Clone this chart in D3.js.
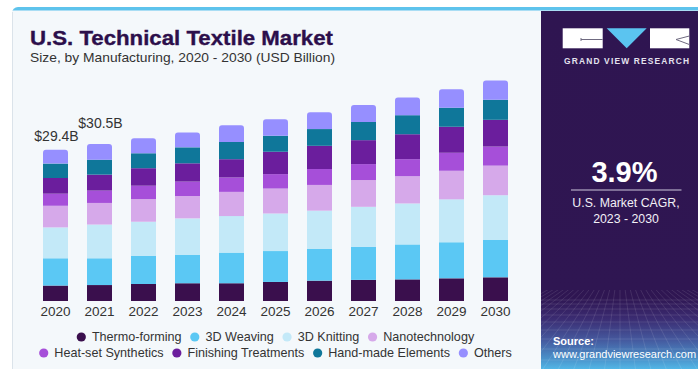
<!DOCTYPE html>
<html>
<head>
<meta charset="utf-8">
<script src="https://cdn.jsdelivr.net/npm/d3@7"></script>
<style>
  html, body { margin: 0; padding: 0; background: #ffffff; }
  svg { display: block; font-family: "Liberation Sans", Arial, sans-serif; }
</style>
</head>
<body>
<svg id="chart" width="698" height="369"></svg>
<script>
// U.S. technical textile market by manufacturing process, USD billion
const years = ["2020", "2021", "2022", "2023", "2024", "2025", "2026", "2027", "2028", "2029", "2030"];
const thermoForming       = [3.0, 3.1, 3.3, 3.45, 3.45, 3.7, 3.95, 4.1, 4.2, 4.4, 4.6];
const weaving3D           = [5.3, 5.2, 5.5, 5.5, 5.95, 6.0, 6.15, 6.45, 6.8, 7.0, 7.25];
const knitting3D          = [6.0, 6.55, 6.6, 7.1, 7.1, 7.3, 7.45, 7.75, 7.95, 8.35, 8.7];
const nanotechnology      = [4.2, 4.2, 4.4, 4.35, 4.7, 4.85, 5.0, 5.2, 5.3, 5.55, 5.75];
const heatSetSynthetics   = [2.35, 2.4, 2.6, 2.8, 2.8, 2.8, 3.1, 3.1, 3.3, 3.5, 3.7];
const finishingTreatments = [3.05, 3.1, 3.4, 3.55, 3.55, 4.35, 4.5, 4.65, 4.85, 5.05, 5.2];
const handMadeElements    = [2.8, 2.9, 2.9, 3.1, 3.35, 3.1, 3.25, 3.55, 3.7, 3.7, 3.9];
const others              = [2.7, 3.05, 2.9, 2.9, 3.25, 3.2, 3.25, 3.3, 3.45, 3.6, 3.75];

const seriesNames = ["Thermo-forming", "3D Weaving", "3D Knitting", "Nanotechnology",
                     "Heat-set Synthetics", "Finishing Treatments", "Hand-made Elements", "Others"];
const seriesValues = [thermoForming, weaving3D, knitting3D, nanotechnology,
                      heatSetSynthetics, finishingTreatments, handMadeElements, others];
const seriesColors = ["#3a0f4d", "#5bc8f4", "#c3e9f8", "#d6a9ea",
                      "#a64fd9", "#6b1e9d", "#0f779a", "#968fff"];
const labelledYears = ["2020", "2021"];

const title = "U.S. Technical Textile Market";
const subtitle = "Size, by Manufacturing, 2020 - 2030 (USD Billion)";
const cagrValue = "3.9%";
const cagrLines = ["U.S. Market CAGR,", "2023 - 2030"];

const svg = d3.select("#chart");
const W = 698, H = 369;

// ---- card background ----
svg.append("rect").attr("x", 12).attr("y", 7).attr("width", W).attr("height", 20)
  .attr("rx", 6).attr("fill", "#5ec3ec");
svg.append("rect").attr("x", 12).attr("y", 10.5).attr("width", W - 12).attr("height", H - 10.5)
  .attr("fill", "#f4f8fb");
svg.append("line").attr("x1", 12.5).attr("x2", 12.5).attr("y1", 12).attr("y2", H)
  .attr("stroke", "#dbe3ea").attr("stroke-width", 1);

// ---- title ----
svg.append("text").attr("x", 30).attr("y", 44.5)
  .attr("font-size", 21).attr("font-weight", "bold").attr("fill", "#2c0f4b")
  .attr("stroke", "#2c0f4b").attr("stroke-width", 0.35)
  .attr("textLength", 303).attr("lengthAdjust", "spacingAndGlyphs")
  .text(title);
svg.append("text").attr("x", 30).attr("y", 61.5)
  .attr("font-size", 13.5).attr("fill", "#333333")
  .attr("textLength", 305).attr("lengthAdjust", "spacingAndGlyphs")
  .text(subtitle);

// ---- bars ----
const table = years.map((yr, i) => {
  const row = { year: yr };
  seriesNames.forEach((s, k) => { row[s] = seriesValues[k][i]; });
  return row;
});
const stack = d3.stack().keys(seriesNames)(table);

const x = d3.scaleBand().domain(years).range([33.5, 517.5])
  .paddingInner(19 / 44).paddingOuter(19 / 88);
const y = d3.scaleLinear().domain([0, 42.8]).range([301, 80.7]);

const topKey = seriesNames[seriesNames.length - 1];
const r = 3;
function segPath(d, isTop) {
  const x0 = x(d.data.year), x1 = x0 + x.bandwidth();
  const y0 = y(d[0]), y1 = y(d[1]);
  if (!isTop) return `M${x0},${y0}L${x0},${y1}L${x1},${y1}L${x1},${y0}Z`;
  return `M${x0},${y0}L${x0},${y1 + r}Q${x0},${y1} ${x0 + r},${y1}` +
         `L${x1 - r},${y1}Q${x1},${y1} ${x1},${y1 + r}L${x1},${y0}Z`;
}

svg.append("g").selectAll("g").data(stack).join("g")
  .attr("fill", (d, i) => seriesColors[i])
  .selectAll("path").data(d => d.map(v => Object.assign(v, { key: d.key }))).join("path")
  .attr("d", d => segPath(d, d.key === topKey));

// ---- total labels ----
const totals = years.map((yr, i) => d3.sum(seriesValues, s => s[i]));
const labelLift = { "2020": 9, "2021": 16 };
svg.append("g").selectAll("text").data(labelledYears).join("text")
  .attr("x", d => x(d) + x.bandwidth() / 2 + 1)
  .attr("y", d => y(totals[years.indexOf(d)]) - labelLift[d])
  .attr("text-anchor", "middle").attr("font-size", 14).attr("fill", "#333333")
  .text(d => `$${d3.format(".1f")(totals[years.indexOf(d)])}B`);

// ---- x axis ----
const xAxis = svg.append("g").attr("transform", "translate(0,302)")
  .call(d3.axisBottom(x).tickSize(0).tickPadding(4));
xAxis.select(".domain").remove();
xAxis.selectAll("text").attr("font-size", 13.5).attr("fill", "#333333")
  .attr("font-family", "'Liberation Sans', Arial, sans-serif").attr("dy", "0.71em");

// ---- legend (two centred rows) ----
const legendRows = [seriesNames.slice(0, 4), seriesNames.slice(4)];
const legendY = [337, 353];
const centreX = 275.5;
legendRows.forEach((row, ri) => {
  const g = svg.append("g");
  const items = row.map(name => {
    const t = g.append("text").attr("font-size", 12.6).attr("fill", "#333333")
      .attr("y", legendY[ri] + 4.4).text(name);
    return { name, t, w: t.node().getComputedTextLength() };
  });
  const gapDot = 10.6, gapNext = 13.3;
  const total = d3.sum(items, it => it.w) + items.length * gapDot + (items.length - 1) * gapNext + 4.5;
  let cx = centreX - total / 2 + 4.5;
  items.forEach(it => {
    g.append("circle").attr("cx", cx).attr("cy", legendY[ri]).attr("r", 4.6)
      .attr("fill", seriesColors[seriesNames.indexOf(it.name)]);
    it.t.attr("x", cx + gapDot);
    cx += gapDot + it.w + gapNext;
  });
});

// ---- side panel ----
const defs = svg.append("defs");
const grad = defs.append("linearGradient").attr("id", "panelGrad")
  .attr("gradientUnits", "userSpaceOnUse").attr("x1", 0).attr("y1", 11).attr("x2", 0).attr("y2", H);
[[0, "#2f1551"], [0.8, "#2f1652"], [0.86, "#3b2c72"], [0.92, "#455a9f"], [0.97, "#4a90c9"], [1, "#52b6e6"]]
  .forEach(([o, c]) => grad.append("stop").attr("offset", o).attr("stop-color", c));
defs.append("clipPath").attr("id", "panelClip").append("rect")
  .attr("x", 541).attr("y", 290).attr("width", W - 541).attr("height", H - 290);

svg.append("rect").attr("x", 541).attr("y", 11).attr("width", W - 541).attr("height", H - 11)
  .attr("fill", "url(#panelGrad)");

// perspective grid near the panel foot
const grid = svg.append("g").attr("clip-path", "url(#panelClip)")
  .attr("stroke", "#ffffff").attr("stroke-opacity", 0.13).attr("stroke-width", 0.8).attr("fill", "none");
[300, 304, 309, 315, 322, 330, 339, 349, 360].forEach(gy =>
  grid.append("line").attr("x1", 541).attr("x2", W).attr("y1", gy).attr("y2", gy));
d3.range(-14, 15).forEach(k =>
  grid.append("line").attr("x1", 620).attr("y1", 250).attr("x2", 620 + k * 22).attr("y2", 420));

// logo
const logo = svg.append("g");
logo.append("rect").attr("x", 562.7).attr("y", 28.3).attr("width", 40).attr("height", 20).attr("fill", "#ffffff");
logo.append("path").attr("d", "M606.7,28.3L646.7,28.3L626.7,48.3Z").attr("fill", "#5bc4f0");
logo.append("rect").attr("x", 650).attr("y", 28.3).attr("width", 39.3).attr("height", 20).attr("fill", "#ffffff");
logo.append("path").attr("d", "M581,38V41M581,39.5H602.7").attr("stroke", "#6f6a80").attr("stroke-width", 1).attr("fill", "none");
logo.append("path").attr("d", "M689.3,36L676,39.5L689.3,44.5").attr("stroke", "#6f6a80").attr("stroke-width", 1).attr("fill", "none");
svg.append("text").attr("x", 564).attr("y", 64.3).attr("font-size", 8.4).attr("font-weight", "bold")
  .attr("fill", "#e4e2ee").attr("textLength", 125).attr("lengthAdjust", "spacing")
  .text("GRAND VIEW RESEARCH");

// CAGR callout
svg.append("text").attr("x", 624.5).attr("y", 181.5).attr("text-anchor", "middle")
  .attr("font-size", 29).attr("font-weight", "bold").attr("fill", "#ffffff").text(cagrValue);
svg.append("line").attr("x1", 571).attr("x2", 681.5).attr("y1", 190).attr("y2", 190)
  .attr("stroke", "#cfc8dc").attr("stroke-width", 1);
svg.append("g").selectAll("text").data(cagrLines).join("text")
  .attr("x", 626).attr("y", (d, i) => 207 + i * 15.5).attr("text-anchor", "middle")
  .attr("font-size", 12.3).attr("fill", "#f2f0f6").text(d => d);

// source note
svg.append("text").attr("x", 553).attr("y", 345).attr("font-size", 11).attr("font-weight", "bold")
  .attr("fill", "#ffffff").text("Source:");
svg.append("text").attr("x", 553).attr("y", 357.5).attr("font-size", 11)
  .attr("fill", "#ffffff").text("www.grandviewresearch.com");
</script>
</body>
</html>
